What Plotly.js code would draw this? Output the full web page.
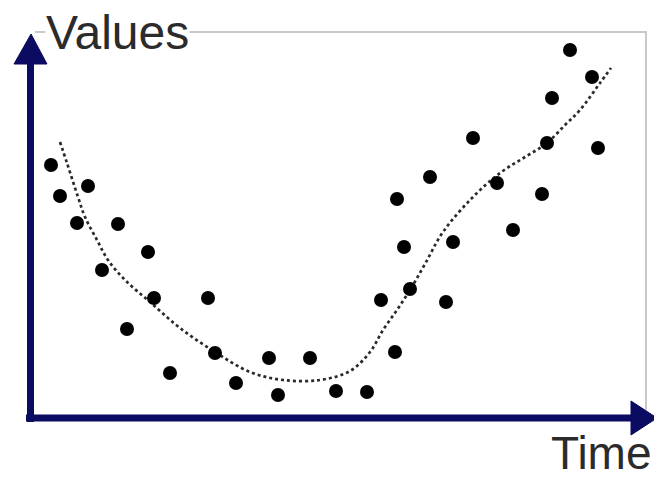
<!DOCTYPE html>
<html>
<head>
<meta charset="utf-8">
<script src="https://cdn.plot.ly/plotly-3.0.1.min.js"></script>
<style>
html,body{margin:0;padding:0;background:#fff;}
#chart{width:654px;height:478px;}
</style>
</head>
<body>
<div id="chart"></div>
<script>
// Observations (time, value)
const time   = [51, 60, 77, 88, 102, 118, 127, 148, 154, 170, 208, 215, 236, 269, 278, 310, 336, 367, 381, 395, 397, 404, 410, 430, 446, 453, 473, 497, 513, 542, 547, 552, 570, 592, 598];
const values = [313, 282, 255, 292, 208, 254, 149, 226, 180, 105, 180, 125, 95, 120, 83, 120, 87, 86, 178, 126, 279, 231, 189, 301, 176, 236, 340, 295, 248, 284, 335, 380, 428, 401, 330];

// Trend curve
const trendTime   = [60, 67, 78, 85, 97, 108, 125, 150, 180, 215, 250, 283, 320, 350, 370, 383, 397, 410, 425, 443, 472, 500, 525, 547, 565, 580, 600, 611];
const trendValues = [336, 315, 281, 261, 238, 218, 198, 176, 150, 126, 106, 98, 98, 107, 126, 148, 168, 188, 214, 246, 280, 305, 321, 335, 353, 368, 395, 410];

const axisLabels = {x: 'Time', y: 'Values'};

const navy = '#0b0b62';
const data = [
  {
    x: trendTime, y: trendValues, type: 'scatter', mode: 'lines',
    line: {color: '#2a2a2a', width: 2.7, dash: 'dot', shape: 'spline', smoothing: 1},
    hoverinfo: 'skip'
  },
  {
    x: time, y: values, type: 'scatter', mode: 'markers',
    marker: {color: '#000', size: 14}
  }
];

const layout = {
  width: 654, height: 478,
  margin: {l: 0, r: 0, t: 0, b: 0},
  paper_bgcolor: '#fff', plot_bgcolor: '#fff',
  showlegend: false,
  xaxis: {range: [0, 654], showgrid: false, zeroline: false, showticklabels: false, showline: false, fixedrange: true},
  yaxis: {range: [0, 478], showgrid: false, zeroline: false, showticklabels: false, showline: false, fixedrange: true},
  shapes: [
    // light frame
    {type: 'path', xref: 'x', yref: 'y', path: 'M35,446 L646,446 L646,68', line: {color: '#c9c9c9', width: 2}, layer: 'below'},
    // vertical axis
    {type: 'line', xref: 'x', yref: 'y', x0: 30.5, x1: 30.5, y0: 56, y1: 420, line: {color: navy, width: 7}},
    {type: 'path', xref: 'x', yref: 'y', path: 'M31,444 L14,414 L47,414 Z', fillcolor: navy, line: {color: navy, width: 1}},
    // horizontal axis
    {type: 'line', xref: 'x', yref: 'y', x0: 26, x1: 636, y0: 60, y1: 60, line: {color: navy, width: 7}},
    {type: 'path', xref: 'x', yref: 'y', path: 'M657,60 L631,77 L631,43 Z', fillcolor: navy, line: {color: navy, width: 1}}
  ],
  annotations: [
    {x: 45, y: 446, xref: 'x', yref: 'y', xanchor: 'left', yanchor: 'middle', text: axisLabels.y, showarrow: false,
     font: {family: 'Liberation Sans, Arial, sans-serif', size: 48, color: '#2b2b2b'}, bgcolor: '#fff', borderpad: 0},
    {x: 653, y: 25, xref: 'x', yref: 'y', xanchor: 'right', yanchor: 'middle', text: axisLabels.x, showarrow: false,
     font: {family: 'Liberation Sans, Arial, sans-serif', size: 46, color: '#2b2b2b'}, borderpad: 0}
  ]
};

Plotly.newPlot('chart', data, layout, {displayModeBar: false, staticPlot: true});
</script>
</body>
</html>
